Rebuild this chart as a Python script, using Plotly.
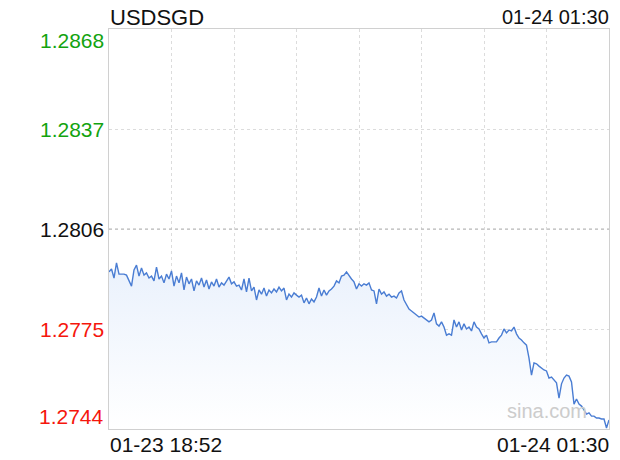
import pandas as pd
import plotly.graph_objects as go

# USDSGD intraday
symbol = "USDSGD"
start_time = "2025-01-23 18:52"
end_time = "2025-01-24 01:30"
start_label = "01-23 18:52"
end_label = "01-24 01:30"

prices = [
    1.27927, 1.27936, 1.27908, 1.27955, 1.27920, 1.27920, 1.27920, 1.27917, 1.27902, 1.27883,
    1.27933, 1.27948, 1.27914, 1.27939, 1.27917, 1.27924, 1.27908, 1.27914, 1.27899, 1.27942,
    1.27905, 1.27914, 1.27893, 1.27920, 1.27905, 1.27930, 1.27883, 1.27914, 1.27893, 1.27924,
    1.27871, 1.27911, 1.27890, 1.27905, 1.27868, 1.27899, 1.27886, 1.27908, 1.27880, 1.27902,
    1.27874, 1.27896, 1.27883, 1.27905, 1.27880, 1.27893, 1.27886, 1.27899, 1.27911, 1.27890,
    1.27896, 1.27883, 1.27886, 1.27871, 1.27905, 1.27865, 1.27908, 1.27868, 1.27880, 1.27840,
    1.27871, 1.27858, 1.27877, 1.27852, 1.27871, 1.27862, 1.27874, 1.27865, 1.27880, 1.27868,
    1.27877, 1.27840, 1.27858, 1.27849, 1.27862, 1.27855, 1.27849, 1.27855, 1.27831, 1.27846,
    1.27828, 1.27843, 1.27834, 1.27849, 1.27877, 1.27852, 1.27871, 1.27855, 1.27868, 1.27874,
    1.27883, 1.27899, 1.27893, 1.27914, 1.27917, 1.27927, 1.27914, 1.27905, 1.27896, 1.27874,
    1.27890, 1.27883, 1.27890, 1.27886, 1.27893, 1.27871, 1.27868, 1.27828, 1.27874, 1.27858,
    1.27865, 1.27852, 1.27858, 1.27849, 1.27852, 1.27846, 1.27862, 1.27868, 1.27840, 1.27828,
    1.27812, 1.27806, 1.27800, 1.27793, 1.27787, 1.27790, 1.27784, 1.27778, 1.27772, 1.27778,
    1.27800, 1.27766, 1.27759, 1.27772, 1.27756, 1.27731, 1.27735, 1.27731, 1.27778, 1.27756,
    1.27772, 1.27747, 1.27766, 1.27750, 1.27756, 1.27744, 1.27772, 1.27756, 1.27750, 1.27735,
    1.27722, 1.27731, 1.27707, 1.27710, 1.27710, 1.27710, 1.27722, 1.27731, 1.27750, 1.27738,
    1.27747, 1.27744, 1.27756, 1.27735, 1.27722, 1.27716, 1.27707, 1.27700, 1.27660, 1.27607,
    1.27645, 1.27642, 1.27635, 1.27629, 1.27623, 1.27620, 1.27598, 1.27601, 1.27592, 1.27583,
    1.27536, 1.27580, 1.27598, 1.27607, 1.27604, 1.27586, 1.27517, 1.27533, 1.27517, 1.27511,
    1.27499, 1.27486, 1.27490, 1.27480, 1.27480, 1.27474, 1.27474, 1.27471, 1.27471, 1.27443,
    1.27468,
]

y_levels = [1.2868, 1.2837, 1.2806, 1.2775, 1.2744]
y_labels = ["1.2868", "1.2837", "1.2806", "1.2775", "1.2744"]
y_colors = ["#13a30f", "#13a30f", "#111111", "#f5160c", "#f5160c"]
prev_close = 1.2806

times = pd.date_range(start_time, end_time, periods=len(prices))
grid_x = pd.date_range(start_time, end_time, periods=9)

FONT = "Liberation Sans, Arial, Helvetica, sans-serif"

fig = go.Figure()
fig.add_trace(go.Scatter(
    x=times, y=prices, mode="lines",
    line=dict(color="#4a7dd3", width=1.4),
    fill="tozeroy",
    fillgradient=dict(type="vertical", start=1.2744, stop=1.2800,
                      colorscale=[[0, "rgba(255,255,255,1)"], [1, "rgba(232,240,252,1)"]]),
    hoverinfo="skip",
))

fig.add_hline(y=prev_close, line=dict(color="#b4b4b4", width=1, dash="dot"))

annotations = []
for lvl, lab, col in zip(y_levels, y_labels, y_colors):
    shift = 0
    if lvl == y_levels[0]:
        shift = -11
    elif lvl == y_levels[-1]:
        shift = 13
    annotations.append(dict(x=0, xref="paper", y=lvl, yref="y", text=lab, showarrow=False,
                            xanchor="right", yanchor="middle", xshift=-3, yshift=shift,
                            font=dict(size=21, color=col, family=FONT)))

annotations += [
    dict(x=0, xref="paper", y=1, yref="paper", text=symbol, showarrow=False,
         xanchor="left", yanchor="bottom", yshift=-3, xshift=-1,
         font=dict(size=22, color="#111111", family=FONT)),
    dict(x=1, xref="paper", y=1, yref="paper", text=end_label, showarrow=False,
         xanchor="right", yanchor="bottom", yshift=-1, xshift=2,
         font=dict(size=20, color="#111111", family=FONT)),
    dict(x=0, xref="paper", y=0, yref="paper", text=start_label, showarrow=False,
         xanchor="left", yanchor="top", yshift=-2, xshift=-1,
         font=dict(size=21, color="#111111", family=FONT)),
    dict(x=1, xref="paper", y=0, yref="paper", text=end_label, showarrow=False,
         xanchor="right", yanchor="top", yshift=-2, xshift=2,
         font=dict(size=21, color="#111111", family=FONT)),
    dict(x=0.875, xref="paper", y=0.045, yref="paper", text="sina.com", showarrow=False,
         xanchor="center", yanchor="middle",
         font=dict(size=20, color="#cccccc", family=FONT)),
]

# page body adds an 8px margin, so the figure is 8px smaller than the window
fig.update_layout(
    width=612, height=452,
    margin=dict(l=101, r=11, t=21, b=31),
    paper_bgcolor="white", plot_bgcolor="white",
    showlegend=False,
    annotations=annotations,
)
fig.update_xaxes(range=[times[0], times[-1]], tickvals=grid_x, showticklabels=False,
                 showgrid=True, gridcolor="#dcdcdc", griddash="dot", gridwidth=1,
                 showline=True, mirror=True, linecolor="#d0d0d0", linewidth=1,
                 ticks="", zeroline=False)
fig.update_yaxes(range=[y_levels[-1], y_levels[0]], tickvals=y_levels[1:-1], showticklabels=False,
                 showgrid=True, gridcolor="#dcdcdc", griddash="dot", gridwidth=1,
                 showline=True, mirror=True, linecolor="#d0d0d0", linewidth=1,
                 ticks="", zeroline=False)

fig.write_html("out.html")
